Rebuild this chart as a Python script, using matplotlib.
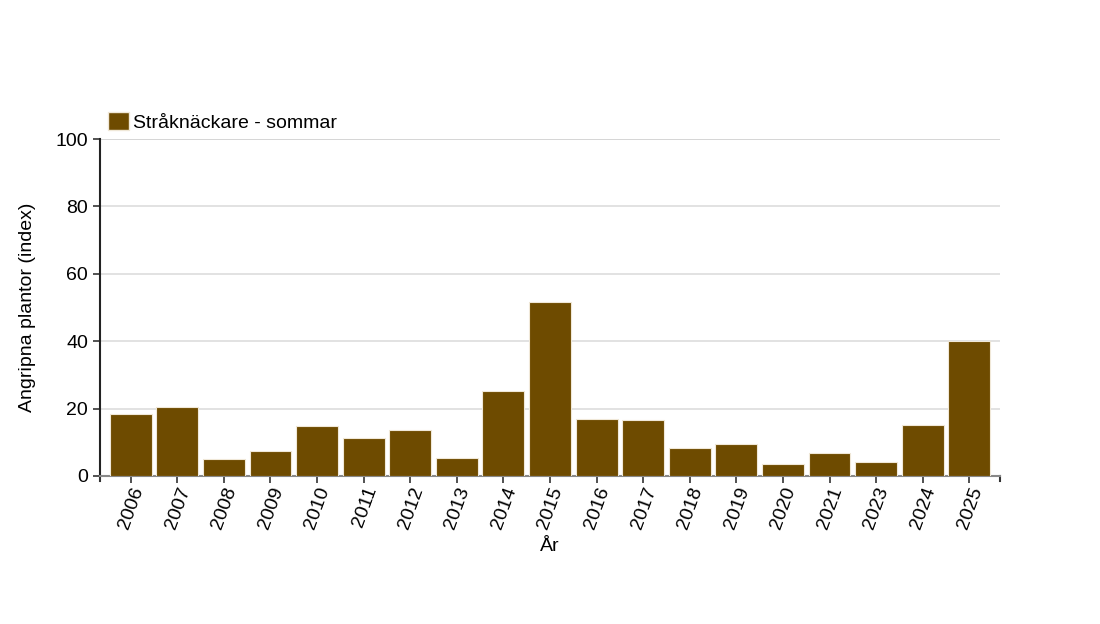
import numpy as np
import matplotlib.pyplot as plt
from matplotlib.patches import Patch

plt.rcParams['font.family'] = ['Liberation Sans', 'DejaVu Sans']

# data
years = ['2006', '2007', '2008', '2009', '2010', '2011', '2012', '2013', '2014', '2015',
         '2016', '2017', '2018', '2019', '2020', '2021', '2023', '2024', '2025']
values = [18.4, 20.5, 5.0, 7.4, 14.8, 11.3, 13.6, 5.3, 25.2, 51.6,
          16.9, 16.6, 8.3, 9.5, 3.6, 6.8, 4.2, 15.1, 40.1]
series_name = 'Stråknäckare - sommar'
bar_color = '#6e4b00'

fig = plt.figure(figsize=(11, 6.24), dpi=100)
ax = fig.add_axes([100 / 1100, 1 - 476 / 624, 900 / 1100, 337 / 624])

x = np.arange(len(years))
ax.bar(x, values, width=0.9, color=bar_color, edgecolor='#f0e8d8', linewidth=0.8, zorder=3)

ax.set_xlim(-0.66, len(years) - 0.34)
ax.set_ylim(0, 100)
ax.set_yticks([0, 20, 40, 60, 80, 100])
ax.grid(axis='y', color='#dddddd', linewidth=1.2, zorder=0)
ax.axhline(100, color='#aaaaaa', linewidth=1.2, zorder=1)

ax.set_xticks(x)
ax.set_xticklabels(years, rotation=70, ha='right', rotation_mode='anchor', fontsize=14)
ax.tick_params(axis='x', length=5, width=1.2, color='#333333', pad=1)
ax.tick_params(axis='y', length=5, width=1.2, color='#333333', labelsize=14)

for s in ['top', 'right']:
    ax.spines[s].set_visible(False)
ax.spines['left'].set_color('#222222')
ax.spines['left'].set_linewidth(1.5)
ax.spines['bottom'].set_color('#888888')
ax.spines['bottom'].set_linewidth(1.5)

# end ticks of the bottom axis
x0, x1 = ax.get_xlim()
ax.plot([x0, x0], [0, -1.5], color='#333333', lw=1.5, clip_on=False)
ax.plot([x1, x1], [0, -1.5], color='#333333', lw=1.5, clip_on=False)

ax.set_ylabel('Angripna plantor (index)', fontsize=14, labelpad=14)
ax.set_xlabel('År', fontsize=14, labelpad=5)

handle = Patch(facecolor=bar_color, edgecolor='#f0e8d8')
ax.legend([handle], [series_name], loc='lower left', bbox_to_anchor=(0.005, 1.01),
          frameon=False, fontsize=14, handlelength=1.05, handleheight=1.05,
          handletextpad=0.2, borderaxespad=0.0, borderpad=0.2)

fig.savefig('out.png', dpi=100)
